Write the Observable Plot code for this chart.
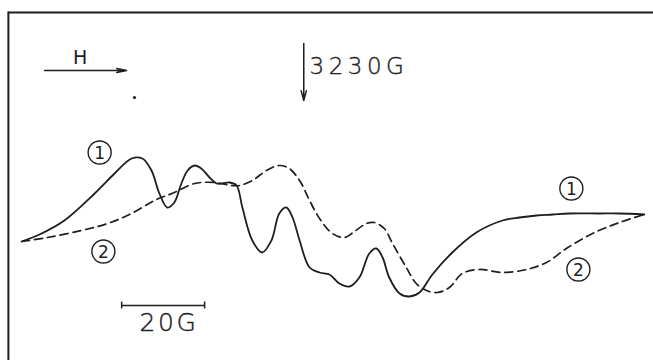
<!DOCTYPE html>
<html>
<head>
<meta charset="utf-8">
<script src="https://cdn.jsdelivr.net/npm/d3@7"></script>
<script src="https://cdn.jsdelivr.net/npm/@observablehq/plot@0.6"></script>
<style>
  html, body { margin: 0; padding: 0; background: #fff; }
  #chart svg { display: block; }
</style>
</head>
<body>
<div id="chart"></div>
<script>
// Magnetic field (G) and derivative signal (arbitrary units)
const fieldSolid = [3161.6, 3165.9, 3171.9, 3179.2, 3184.0, 3188.1, 3190.7, 3192.9, 3194.8, 3196.7,
  3198.4, 3200.1, 3201.6, 3203.3, 3204.9, 3206.9, 3208.6, 3210.0, 3211.7, 3213.4,
  3214.8, 3217.2, 3219.6, 3221.8, 3223.7, 3225.4, 3226.9, 3228.6, 3231.0, 3233.4,
  3235.8, 3238.2, 3240.6, 3243.0, 3245.4, 3247.1, 3248.6, 3250.2, 3252.7, 3255.1,
  3257.5, 3260.6, 3265.4, 3271.2, 3277.5, 3281.6, 3285.7, 3289.6, 3293.6, 3300.8, 3305.7, 3311.7];
const signalSolid = [0, 7, 21, 48, 68, 83, 83, 71, 48, 34,
  39, 58, 71, 76, 73, 64, 58, 58, 59, 56,
  34, 1, -11, 1, 28, 34, 24, 1, -26, -31,
  -33, -42, -45, -36, -12, -7, -16, -36, -52, -55,
  -51, -33, -11, 9, 21, 24, 26, 27, 28, 28, 28, 27];

const fieldDashed = [3161.6, 3167.8, 3176.0, 3182.3, 3188.1, 3193.6, 3198.4, 3203.3, 3208.1, 3212.2,
  3214.1, 3217.2, 3220.6, 3223.7, 3226.1, 3228.6, 3231.0, 3233.4, 3236.5, 3239.4,
  3241.8, 3244.7, 3246.6, 3249.0, 3251.0, 3254.3, 3256.7, 3259.2, 3261.8, 3264.7,
  3267.8, 3271.9, 3277.5, 3283.3, 3288.1, 3292.9, 3299.2, 3305.7, 3311.7];
const signalDashed = [0, 4, 11, 18, 28, 41, 49, 58, 59, 56,
  56, 61, 71, 76, 73, 61, 41, 23, 8, 4,
  10, 18, 19, 13, -2, -26, -42, -49, -51, -46,
  -32, -28, -31, -28, -21, -7, 8, 19, 27];

// Annotations
const curveLabels = ["1", "2", "1", "2"];
const labelField = [3180.4, 3181.3, 3294.1, 3295.8];
const labelSignal = [89, -10, 53, -28];
const centerField = 3230;
const centerLabel = "3230G";
const scaleLabel = "20G";
const scaleStart = 3185.7, scaleLength = 20;
const directionLabel = "H";

const solid = fieldSolid.map((x, i) => ({x, y: signalSolid[i]}));
const dashed = fieldDashed.map((x, i) => ({x, y: signalDashed[i]}));
const labels = curveLabels.map((t, i) => ({t, x: labelField[i], y: labelSignal[i]}));

const ink = "#1e1e1e";
const font = "DejaVu Sans, sans-serif";

const chart = Plot.plot({
  width: 653,
  height: 360,
  margin: 0,
  x: {domain: [3156.5, 3313.9], axis: null},
  y: {domain: [-119, 241], axis: null},
  marks: [
    // frame (top and left edges)
    Plot.ruleY([229], {x1: 3158.4, x2: 3313.9, stroke: ink, strokeWidth: 2}),
    Plot.ruleX([3158.4], {y1: 229.5, y2: -119, stroke: ink, strokeWidth: 2}),
    // spectra
    Plot.line(dashed, {x: "x", y: "y", curve: "catmull-rom", stroke: ink, strokeWidth: 1.7, strokeDasharray: "8,5"}),
    Plot.line(solid, {x: "x", y: "y", curve: "catmull-rom", stroke: ink, strokeWidth: 1.8}),
    // curve labels (circled numbers)
    Plot.dot(labels, {x: "x", y: "y", r: 11.5, stroke: ink, strokeWidth: 1.4, fill: "none"}),
    Plot.text(labels, {x: "x", y: "y", text: "t", fontSize: 17, fontFamily: font, fill: ink, dy: 1}),
    // field direction arrow
    Plot.arrow([{x1: 3167.1, x2: 3186.9, y1: 171, y2: 171}], {x1: "x1", x2: "x2", y1: "y1", y2: "y2", stroke: ink, strokeWidth: 1.5, headLength: 10, headAngle: 22}),
    Plot.text([directionLabel], {x: 3175.7, y: 184, text: d => d, fontSize: 19, fontFamily: font, fill: ink}),
    Plot.dot([{x: 3188.8, y: 144}], {x: "x", y: "y", r: 1.6, fill: ink}),
    // resonance marker
    Plot.arrow([{x: centerField - 0.4, y1: 198, y2: 141}], {x1: "x", x2: "x", y1: "y1", y2: "y2", stroke: ink, strokeWidth: 1.5, headLength: 10, headAngle: 30}),
    Plot.text([centerLabel], {x: 3231.0, y: 174.5, text: d => d, textAnchor: "start", fontSize: 23, fontFamily: font, fontWeight: 300, fill: ink, stroke: ink, strokeWidth: 0.4}),
    // scale bar
    Plot.ruleY([-64], {x1: scaleStart, x2: scaleStart + scaleLength, stroke: ink, strokeWidth: 1.5}),
    Plot.ruleX([scaleStart, scaleStart + scaleLength], {y1: -60.5, y2: -67.5, stroke: ink, strokeWidth: 1.5}),
    Plot.text([scaleLabel], {x: scaleStart + 11.4, y: -81, text: d => d, fontSize: 25, fontFamily: font, fontWeight: 300, fill: ink, stroke: ink, strokeWidth: 0.4})
  ]
});
// typewriter-like letter spacing for the field labels
d3.select(chart).selectAll("text").each(function () {
  const t = this.textContent;
  if (t === centerLabel) d3.select(this).attr("letter-spacing", "4.5px");
  if (t === scaleLabel) d3.select(this).attr("letter-spacing", "2.5px");
});
document.getElementById("chart").appendChild(chart);
</script>
</body>
</html>
